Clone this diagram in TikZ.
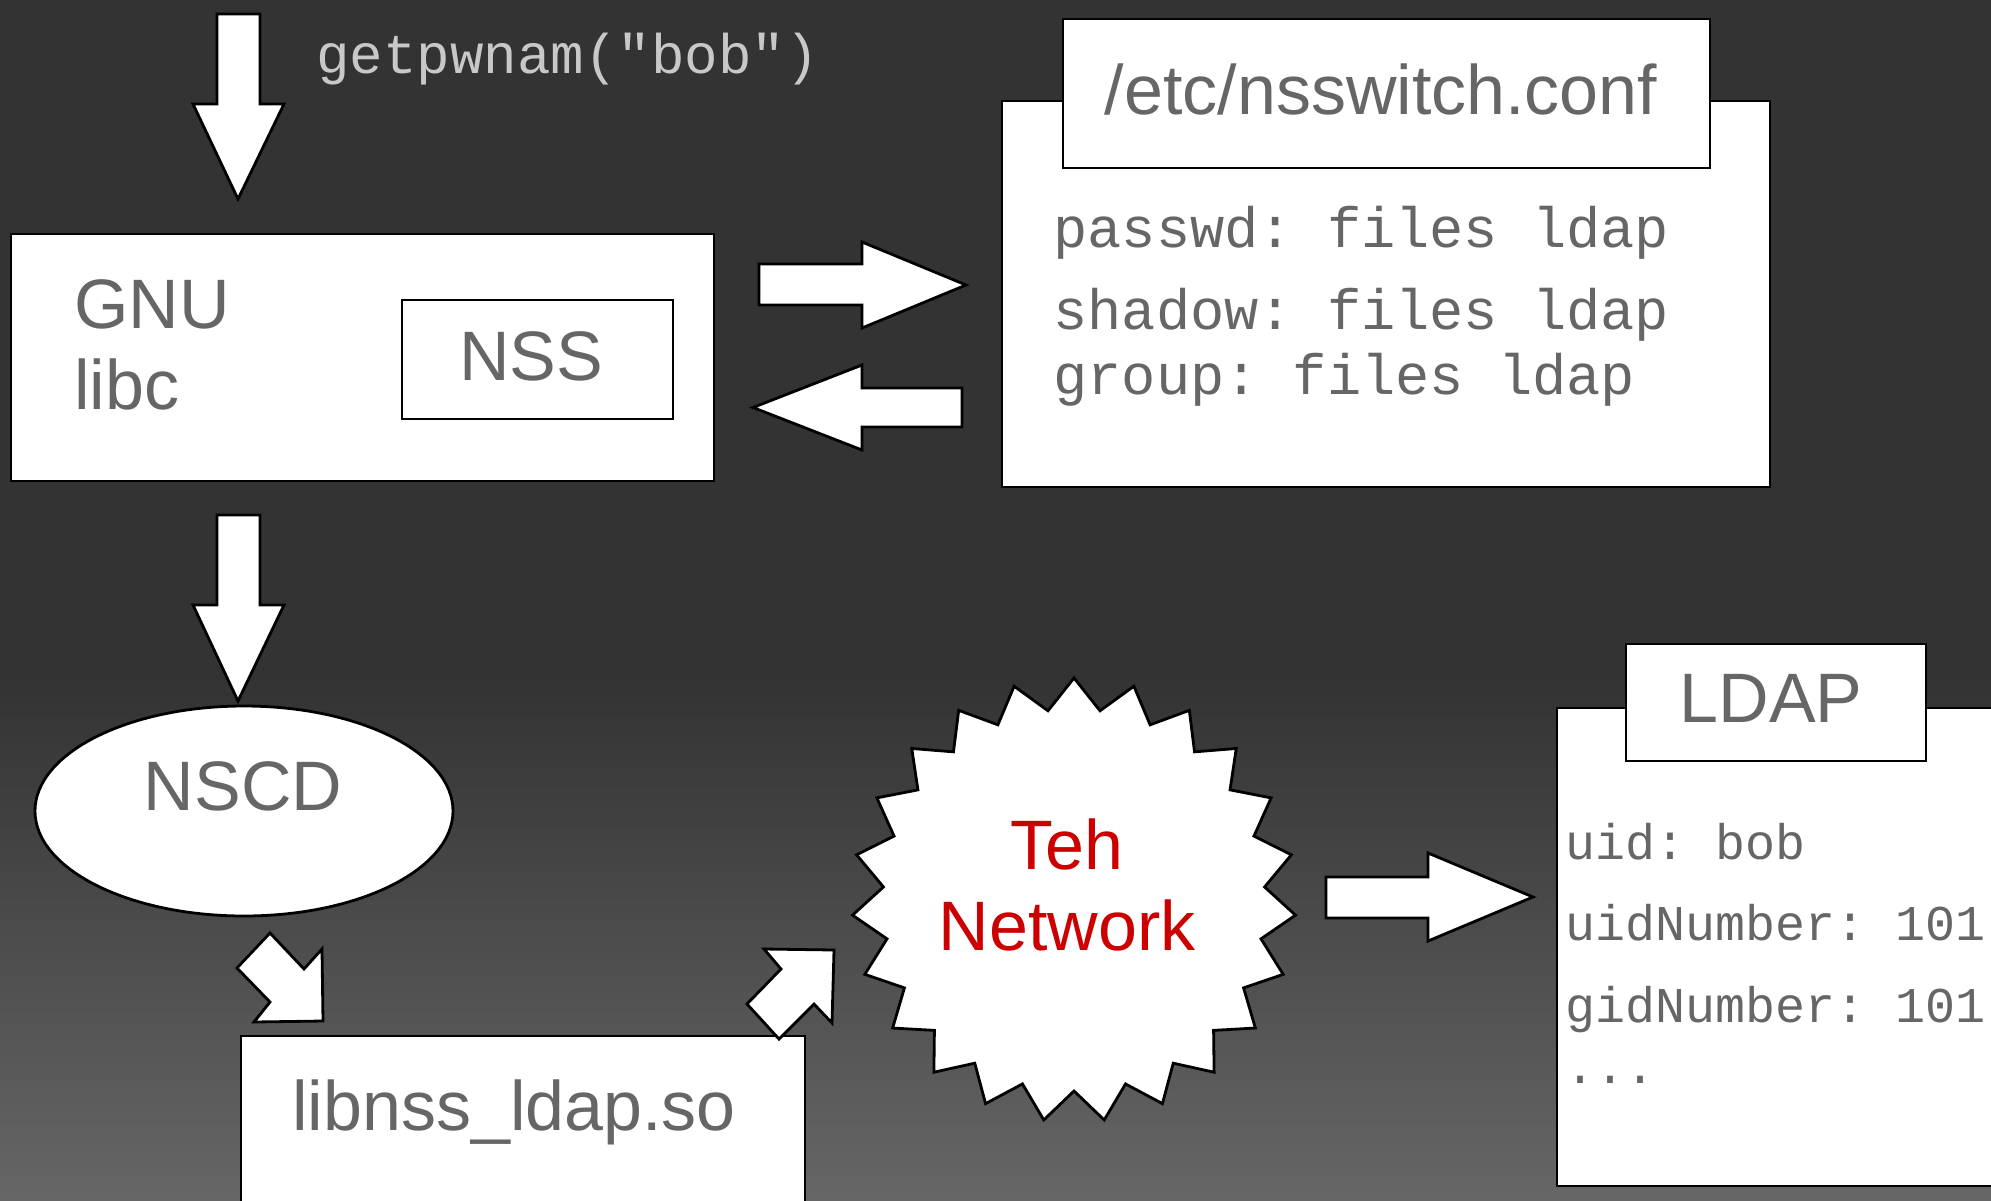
\documentclass[tikz,border=0pt]{standalone}
\usepackage{fontspec}
\setmainfont{Liberation Sans}
\setmonofont{Liberation Mono}
\usetikzlibrary{shapes.geometric}
\definecolor{bgtop}{HTML}{333333}
\definecolor{bgbot}{HTML}{666666}
\definecolor{txtgray}{HTML}{666666}
\definecolor{codelight}{HTML}{C8C8C8}
\definecolor{netred}{HTML}{CC0000}
\tikzset{
  blk/.style={fill=white, draw=black, line width=1.4pt, inner sep=0pt},
  barrow/.style={fill=white, draw=black, line width=1.4pt, line join=miter},
  lbl/.style={text=txtgray, font=\fontsize{35}{40}\selectfont, inner sep=0pt, anchor=base},
  code/.style={text=txtgray, font=\ttfamily\fontsize{28.5}{32}\selectfont, inner sep=0pt, anchor=base west},
  smallcode/.style={text=txtgray, font=\ttfamily\fontsize{25}{28}\selectfont, inner sep=0pt, anchor=base west},
}
\begin{document}
\begin{tikzpicture}[x=0.5pt, y=-0.5pt]
\useasboundingbox (0,0) rectangle (1991,1200);
\clip (0,0) rectangle (1991,1200);
% background
\fill[bgtop] (0,0) rectangle (1991,1200);
\shade[top color=bgtop, bottom color=bgbot] (0,680) rectangle (1991,1200);

% GNU libc
\node[blk, minimum width=351.5pt, minimum height=123.5pt] (libcbox) at (362.5,357.5) {};
\node[blk, minimum width=135.5pt, minimum height=59.5pt] (nssbox) at (537.5,359.5) {};
\node[lbl, anchor=base west] (gnu) at (74,328) {GNU};
\node[lbl, anchor=base west] (libc) at (74,409.5) {libc};
\node[lbl] (nss) at (531,380) {NSS};

% getpwnam arrow
\draw[barrow] (217,14) -- (260,14) -- (260,104) -- (284,104) -- (238,199) -- (193,104) -- (217,104) -- cycle;
\node[code, text=codelight, font=\ttfamily\fontsize{27.9}{32}\selectfont] (call) at (316,73) {getpwnam("bob")};

% arrows libc <-> nsswitch
\draw[barrow] (759,264) -- (862,264) -- (862,242) -- (966,285) -- (862,328) -- (862,305) -- (759,305) -- cycle;
\draw[barrow] (962,388) -- (862,388) -- (862,365) -- (753,407.5) -- (862,450) -- (862,427) -- (962,427) -- cycle;

% nsswitch.conf
\node[blk, minimum width=384pt, minimum height=193pt] (nssconf) at (1386,294) {};
\node[blk, minimum width=323.5pt, minimum height=74.5pt] (nsstab) at (1386.5,93.5) {};
\node[lbl] (nsstitle) at (1381,114) {/etc/nsswitch.conf};
\node[code] (l1) at (1053,247) {passwd: files ldap};
\node[code] (l2) at (1053,329) {shadow: files ldap};
\node[code] (l3) at (1053,394) {group: files ldap};

% libc -> NSCD arrow
\draw[barrow] (217,515) -- (260,515) -- (260,605) -- (284,605) -- (238,701) -- (193,605) -- (217,605) -- cycle;

% NSCD
\node[blk, ellipse, minimum width=209pt, minimum height=105pt] (nscd) at (244,811) {};
\node[lbl] (nscdt) at (243,810) {NSCD};

% NSCD -> libnss arrow
\draw[barrow] (270,933) -- (304,969) -- (322,949) -- (323,1021) -- (254,1022) -- (270,1002) -- (237,968) -- cycle;

% libnss_ldap.so
\node[blk, minimum width=282pt, minimum height=97pt] (libnss) at (523,1133) {};
\node[lbl] (libnsst) at (514,1130) {libnss\_ldap.so};

% libnss -> network arrow
\draw[barrow] (747,1004) -- (781,969) -- (764,949) -- (834,950) -- (832,1023) -- (814,1004) -- (779,1039) -- cycle;

% Teh Network starburst
\draw[barrow] (1074,678) \foreach \i in {1,...,45} { -- ({1074+ifthenelse(mod(\i,2)==1,191,222)*sin(\i*360/46)}, {900-ifthenelse(mod(\i,2)==1,191,222)*cos(\i*360/46)}) } -- cycle;
\node[lbl, text=netred] (teh) at (1067,869) {Teh};
\node[lbl, text=netred] (network) at (1067,950) {Network};

% network -> LDAP arrow
\draw[barrow] (1326,877) -- (1428,877) -- (1428,853) -- (1533,897) -- (1428,941) -- (1428,918) -- (1326,918) -- cycle;

% LDAP
\node[blk, minimum width=236.5pt, minimum height=239pt] (ldapbody) at (1793.5,947) {};
\node[blk, minimum width=150pt, minimum height=58.5pt] (ldaptab) at (1776,702.5) {};
\node[lbl] (ldapt) at (1771,722) {LDAP};
\node[smallcode] (u1) at (1565,859.5) {uid: bob};
\node[smallcode] (u2) at (1565,940) {uidNumber: 101};
\node[smallcode] (u3) at (1565,1022) {gidNumber: 101};
\node[smallcode] (u4) at (1565,1083) {...};
\end{tikzpicture}
\end{document}
